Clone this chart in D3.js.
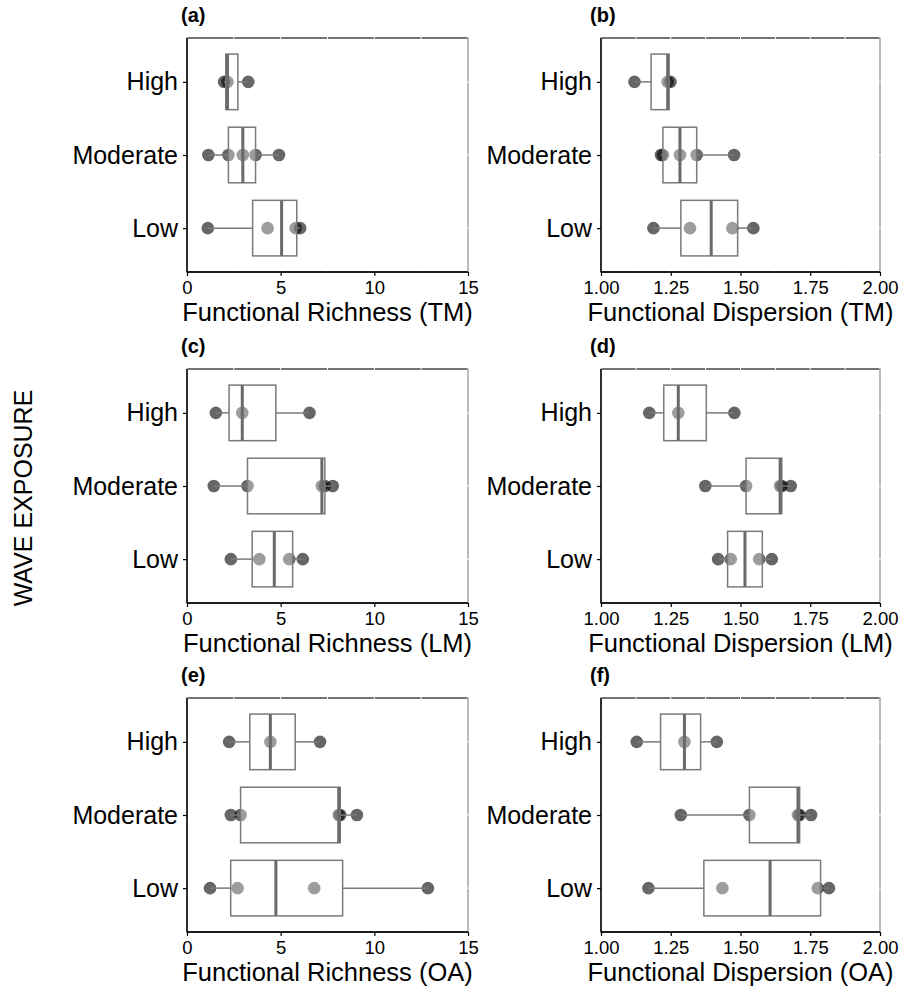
<!DOCTYPE html>
<html>
<head>
<meta charset="utf-8">
<script src="https://cdn.jsdelivr.net/npm/d3@7"></script>
<style>
  html, body { margin: 0; padding: 0; background: #fff; }
  svg { display: block; font-family: "Liberation Sans", Arial, Helvetica, sans-serif; }
</style>
</head>
<body>
<svg id="chart" width="901" height="986"></svg>
<script>
// ---------------- data ----------------
const categories = ["High", "Moderate", "Low"];
const panelLabels = ["(a)", "(b)", "(c)", "(d)", "(e)", "(f)"];
const xTitles = [
  "Functional Richness (TM)", "Functional Dispersion (TM)",
  "Functional Richness (LM)", "Functional Dispersion (LM)",
  "Functional Richness (OA)", "Functional Dispersion (OA)"
];
const yTitle = "WAVE EXPOSURE";
const richnessDomain = [0, 15];
const dispersionDomain = [1, 2];
const richnessTicks = [0, 5, 10, 15];
const dispersionTicks = [1.00, 1.25, 1.50, 1.75, 2.00];

// points per category: [High, Moderate, Low]
const richnessTM = [
  [1.98, 2.16, 3.27],
  [1.14, 2.21, 2.98, 3.66, 4.91],
  [1.11, 4.30, 5.80, 6.04]
];
const dispersionTM = [
  [1.120, 1.239, 1.249],
  [1.215, 1.222, 1.283, 1.343, 1.477],
  [1.188, 1.319, 1.471, 1.546]
];
const richnessLM = [
  [1.54, 2.95, 6.54],
  [1.43, 3.23, 7.20, 7.36, 7.78],
  [2.34, 3.86, 5.46, 6.18]
];
const dispersionLM = [
  [1.173, 1.277, 1.478],
  [1.374, 1.520, 1.642, 1.648, 1.680],
  [1.420, 1.465, 1.567, 1.612]
];
const richnessOA = [
  [2.25, 4.45, 7.10],
  [2.34, 2.86, 8.10, 8.18, 9.07],
  [1.23, 2.70, 6.79, 12.86]
];
const dispersionOA = [
  [1.128, 1.299, 1.415],
  [1.286, 1.532, 1.706, 1.712, 1.753],
  [1.170, 1.435, 1.777, 1.817]
];

// ---------------- layout ----------------
const panels = [
  { data: richnessTM,   domain: richnessDomain,   ticks: richnessTicks,   fmt: d3.format("d"),   col: 0, row: 0 },
  { data: dispersionTM, domain: dispersionDomain, ticks: dispersionTicks, fmt: d3.format(".2f"), col: 1, row: 0 },
  { data: richnessLM,   domain: richnessDomain,   ticks: richnessTicks,   fmt: d3.format("d"),   col: 0, row: 1 },
  { data: dispersionLM, domain: dispersionDomain, ticks: dispersionTicks, fmt: d3.format(".2f"), col: 1, row: 1 },
  { data: richnessOA,   domain: richnessDomain,   ticks: richnessTicks,   fmt: d3.format("d"),   col: 0, row: 2 },
  { data: dispersionOA, domain: dispersionDomain, ticks: dispersionTicks, fmt: d3.format(".2f"), col: 1, row: 2 }
];
const colX = [[187, 468], [601, 880]];
const labelOffset = [6, 11];
const rowTop = [38, 369, 698];
const panelH = 234;

const svg = d3.select("#chart");
const FONT = '"Liberation Sans", Arial, Helvetica, sans-serif';

// global y title
svg.append("text")
  .attr("transform", "translate(23,498) rotate(-90)")
  .attr("text-anchor", "middle")
  .attr("dominant-baseline", "central")
  .attr("font-size", 25)
  .attr("fill", "#000")
  .text(yTitle);

panels.forEach((p, i) => {
  const [x0, x1] = colX[p.col];
  const y0 = rowTop[p.row], y1 = y0 + panelH;
  const x = d3.scaleLinear().domain(p.domain).range([x0, x1]);
  const y = d3.scalePoint().domain(categories).range([y0, y1]).padding(0.6);
  const step = y.step();
  const halfBox = step * 0.38;

  const g = svg.append("g");

  // panel label
  g.append("text")
    .attr("x", x0 - labelOffset[p.col])
    .attr("y", y0 - 16)
    .attr("font-size", 20)
    .attr("font-weight", "bold")
    .attr("fill", "#000")
    .text(panelLabels[i]);

  // panel border
  g.append("rect")
    .attr("x", x0).attr("y", y0)
    .attr("width", x1 - x0).attr("height", y1 - y0)
    .attr("fill", "#fff")
    .attr("stroke", "#3a3a3a")
    .attr("stroke-width", 1.4);

  // white grid lines (visible where they cross the border)
  const t = p.ticks;
  const minor = [];
  for (let k = 0; k < t.length - 1; k++) minor.push((t[k] + t[k + 1]) / 2);
  g.selectAll("line.vgrid").data(t.concat(minor)).join("line")
    .attr("x1", d => x(d)).attr("x2", d => x(d))
    .attr("y1", y0 - 1).attr("y2", y1)
    .attr("stroke", "#fff").attr("stroke-width", 1);
  g.selectAll("line.hgrid").data(categories).join("line")
    .attr("x1", x0).attr("x2", x1 + 1)
    .attr("y1", d => y(d)).attr("y2", d => y(d))
    .attr("stroke", "#fff").attr("stroke-width", 1);

  // points (drawn first, box overlays them)
  const pts = [];
  categories.forEach((c, ci) => p.data[ci].forEach(v => pts.push({ c, v })));
  g.selectAll("circle.pt").data(pts).join("circle")
    .attr("cx", d => x(d.v))
    .attr("cy", d => y(d.c))
    .attr("r", 6.3)
    .attr("fill", "#000")
    .attr("fill-opacity", 0.6);

  // boxplots
  categories.forEach((c, ci) => {
    const vals = p.data[ci].slice().sort(d3.ascending);
    const q1 = d3.quantile(vals, 0.25);
    const med = d3.quantile(vals, 0.5);
    const q3 = d3.quantile(vals, 0.75);
    const iqr = q3 - q1;
    const lo = d3.min(vals.filter(v => v >= q1 - 1.5 * iqr));
    const hi = d3.max(vals.filter(v => v <= q3 + 1.5 * iqr));
    const cy = y(c);
    const col = "#7a7a7a";
    // whiskers
    g.append("line").attr("x1", x(lo)).attr("x2", x(q1)).attr("y1", cy).attr("y2", cy)
      .attr("stroke", col).attr("stroke-width", 1.5);
    g.append("line").attr("x1", x(q3)).attr("x2", x(hi)).attr("y1", cy).attr("y2", cy)
      .attr("stroke", col).attr("stroke-width", 1.5);
    // box
    g.append("rect")
      .attr("x", x(q1)).attr("y", cy - halfBox)
      .attr("width", x(q3) - x(q1)).attr("height", 2 * halfBox)
      .attr("fill", "#fff").attr("fill-opacity", 0.36)
      .attr("stroke", col).attr("stroke-width", 1.5);
    // median
    g.append("line").attr("x1", x(med)).attr("x2", x(med))
      .attr("y1", cy - halfBox).attr("y2", cy + halfBox)
      .attr("stroke", "#6a6a6a").attr("stroke-width", 3);
  });

  // axes lines (black)
  g.append("line").attr("x1", x0).attr("x2", x1).attr("y1", y1).attr("y2", y1)
    .attr("stroke", "#000").attr("stroke-width", 1.5);
  g.append("line").attr("x1", x0).attr("x2", x0).attr("y1", y0).attr("y2", y1)
    .attr("stroke", "#000").attr("stroke-width", 1.5);

  // x axis
  const xa = g.append("g").attr("transform", "translate(0," + y1 + ")")
    .call(d3.axisBottom(x).tickValues(p.ticks).tickFormat(p.fmt).tickSize(4).tickPadding(5));
  xa.select(".domain").remove();
  xa.selectAll(".tick line").attr("stroke", "#000").attr("stroke-width", 1.2);
  xa.selectAll(".tick text").attr("font-family", FONT).attr("font-size", 18.5).attr("fill", "#000");

  // y axis
  const ya = g.append("g").attr("transform", "translate(" + x0 + ",0)")
    .call(d3.axisLeft(y).tickSize(4).tickPadding(5));
  ya.select(".domain").remove();
  ya.selectAll(".tick line").attr("stroke", "#000").attr("stroke-width", 1.2);
  ya.selectAll(".tick text").attr("font-family", FONT).attr("font-size", 25).attr("fill", "#000");

  // x title
  g.append("text")
    .attr("x", (x0 + x1) / 2)
    .attr("y", y1 + 49)
    .attr("text-anchor", "middle")
    .attr("font-size", 25.5)
    .attr("fill", "#000")
    .text(xTitles[i]);
});
</script>
</body>
</html>
